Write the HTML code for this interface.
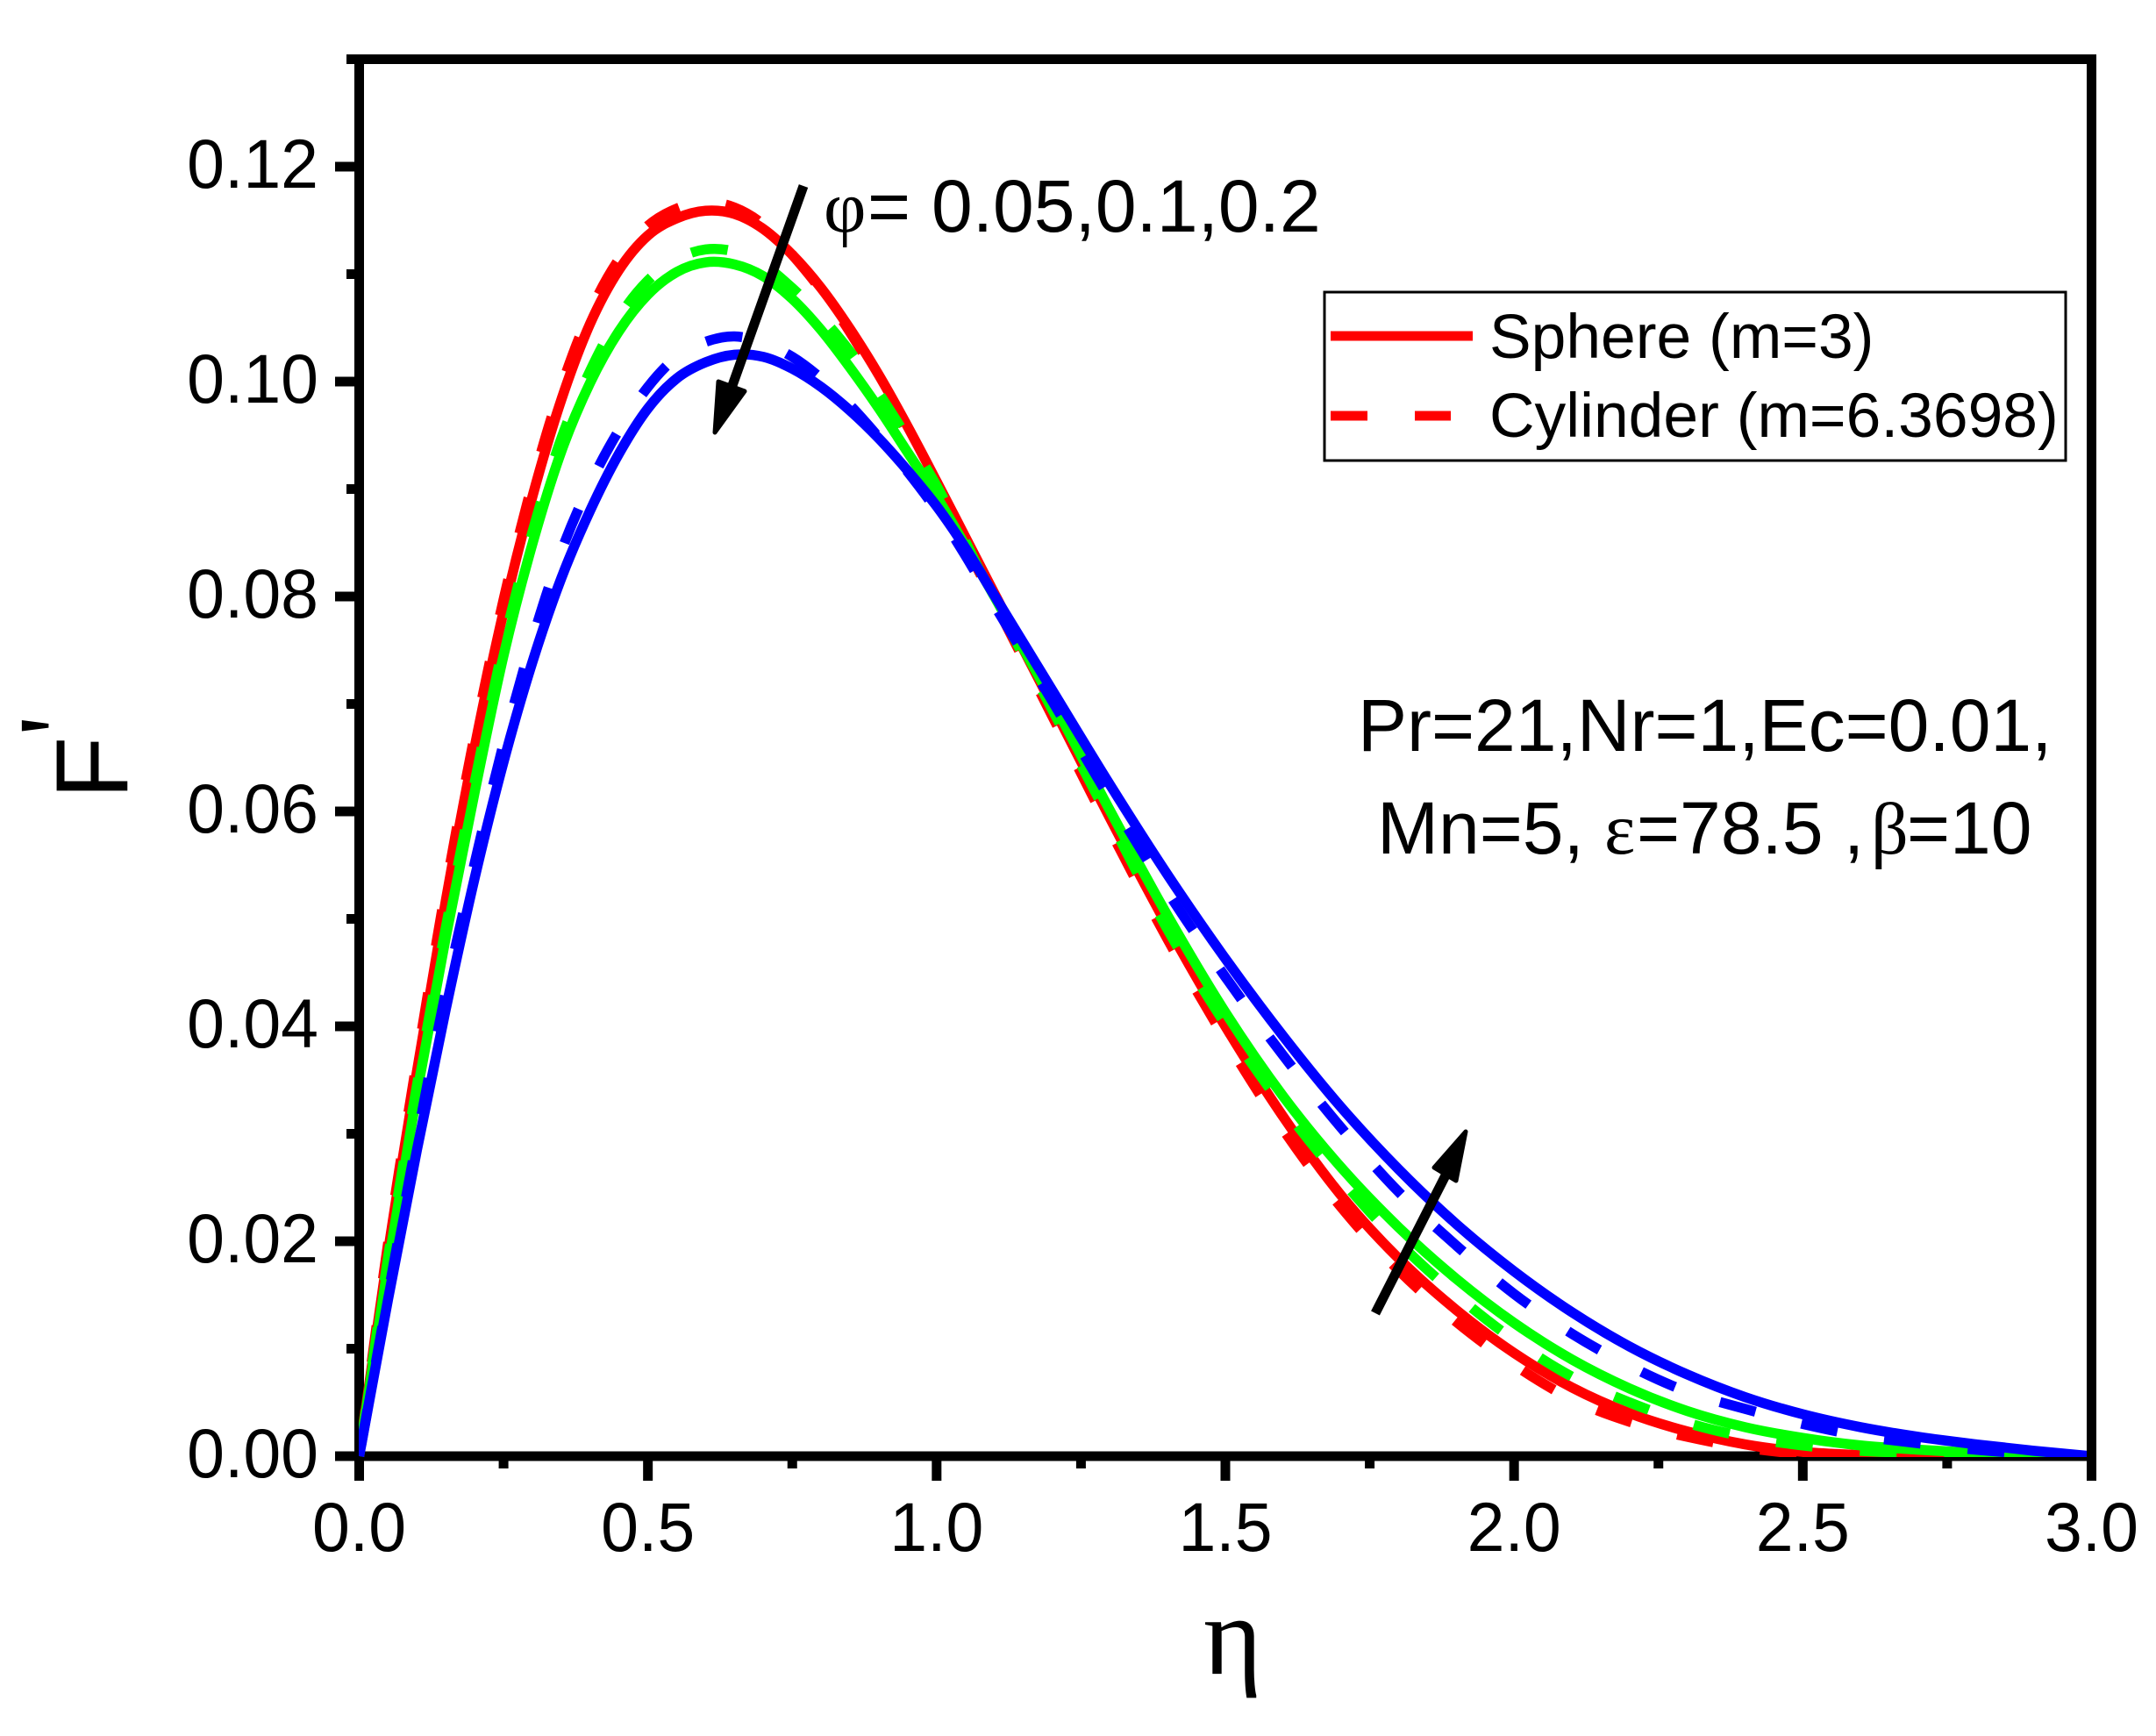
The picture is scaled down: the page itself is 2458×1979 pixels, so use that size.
<!DOCTYPE html>
<html lang="en">
<head>
<meta charset="utf-8">
<title>F' versus eta chart</title>
<style>
html,body{margin:0;padding:0;background:#fff;}
svg{display:block;}
text{font-family:"Liberation Sans",Arial,sans-serif;fill:#000;}
.greek{font-family:"Liberation Serif","DejaVu Serif",serif;}
</style>
</head>
<body>
<svg id="chart" xmlns="http://www.w3.org/2000/svg" width="2458" height="1979" viewBox="0 0 2458 1979">
  <rect x="0" y="0" width="2458" height="1979" fill="#fff"/>
  <defs>
    <clipPath id="plot-clip"><rect x="409" y="60" width="1970" height="1601"/></clipPath>
  </defs>
  <g id="axes"></g>
  <g id="series" clip-path="url(#plot-clip)"></g>
  <g id="ticklabels"></g>

  <text class="greek" x="1372" y="1908" font-size="128">η</text>
  <text transform="translate(145,911) rotate(-90)" font-size="117">F</text>
  <text class="greek" transform="translate(110,839) rotate(-90)" font-size="130">'</text>

  <text x="939" y="264" font-size="84"><tspan class="greek" font-size="84">φ</tspan><tspan x="989">= </tspan><tspan x="1062">0.05,0.1,0.2</tspan></text>
  <text x="1548" y="856" font-size="84">Pr=21,Nr=1,Ec=0.01,</text>
  <text x="1570" y="973" font-size="84">Mn=5, <tspan class="greek" x="1829">ε</tspan><tspan x="1866">=78.5 ,</tspan><tspan class="greek" x="2133">β</tspan><tspan x="2174">=10</tspan></text>

  <g>
    <line x1="916" y1="212" x2="833" y2="445" stroke="#000" stroke-width="11"/>
    <polygon points="819,435 849,446 815,493" fill="#000" stroke="#000" stroke-width="5" stroke-linejoin="round"/>
  </g>
  <g>
    <line x1="1568" y1="1497" x2="1648" y2="1340" stroke="#000" stroke-width="11"/>
    <polygon points="1635,1331 1660,1346 1671,1290" fill="#000" stroke="#000" stroke-width="5" stroke-linejoin="round"/>
  </g>

  <g>
    <rect x="1510" y="333" width="845" height="192" fill="#fff" stroke="#000" stroke-width="3"/>
    <line x1="1517" y1="383" x2="1679" y2="383" stroke="#ff0000" stroke-width="11"/>
    <text x="1698" y="408" font-size="71.4">Sphere (m=3)</text>
    <line x1="1517" y1="474" x2="1559" y2="474" stroke="#ff0000" stroke-width="11"/>
    <line x1="1613" y1="474" x2="1654" y2="474" stroke="#ff0000" stroke-width="11"/>
    <text x="1698" y="498" font-size="71.4">Cylinder (m=6.3698)</text>
  </g>
</svg>
<script>
// ---- chart data ----
const xTickLabels = ["0.0","0.5","1.0","1.5","2.0","2.5","3.0"];
const xTickValues = [0,0.5,1,1.5,2,2.5,3];
const xMinorValues = [0.25,0.75,1.25,1.75,2.25,2.75];
const yTickLabels = ["0.00","0.02","0.04","0.06","0.08","0.10","0.12"];
const yTickValues = [0,0.02,0.04,0.06,0.08,0.10,0.12];
const yMinorValues = [0.01,0.03,0.05,0.07,0.09,0.11,0.13];

const etaValues = [0,.05,.1,.15,.2,.25,.3,.35,.4,.45,.5,.55,.6,.65,.7,.75,.8,.85,.9,.95,1,1.05,1.1,1.2,1.3,1.4,1.5,1.6,1.7,1.8,1.9,2,2.1,2.2,2.3,2.4,2.5,2.6,2.7,2.8,2.9,3];

const redSolidF = [0,.019,.0358,.0517,.066,.0786,.0893,.0983,.1054,.1104,.1136,.1152,.1159,.1156,.1142,.1118,.1087,.1049,.1006,.0958,.0907,.0855,.0803,.0699,.0594,.0493,.04,.0316,.0243,.0184,.0136,.0096,.0064,.004,.0023,.0011,.0004,.0001,0,0,0,0];
const redDashF = [0,.0198,.0368,.0528,.0671,.0797,.0905,.0995,.1065,.1114,.1145,.1161,.1167,.1162,.1146,.1118,.1085,.1046,.1001,.0952,.09,.0848,.0795,.0689,.0583,.0481,.0388,.0304,.0232,.0173,.0125,.0085,.0053,.0032,.0018,.0008,.0002,0,0,0,0,0];
const greenSolidF = [0,.0178,.0338,.0483,.0618,.0745,.0849,.0935,.0999,.1047,.1081,.1102,.1111,.1109,.1098,.1077,.1048,.1013,.0975,.0934,.0893,.0847,.08,.0703,.0601,.0503,.0413,.0335,.0269,.0213,.0165,.0124,.009,.0063,.0042,.0027,.0017,.001,.0006,.0003,.0001,0];
const greenDashF = [0,.0185,.0345,.0492,.0627,.0755,.086,.0947,.101,.106,.1094,.1114,.1123,.1121,.1109,.1087,.106,.1028,.0989,.0947,.0903,.0851,.0796,.0695,.0592,.049,.0402,.0325,.0258,.0199,.015,.0108,.0074,.005,.0031,.0018,.001,.0005,.0003,.0002,.0001,0];
const blueSolidF = [0,.0146,.0285,.0416,.0538,.0646,.0739,.0817,.088,.0933,.0975,.1003,.1018,.1025,.1023,.1012,.0995,.0973,.0947,.0917,.0884,.0845,.0801,.0713,.0625,.0541,.0463,.0391,.0325,.0267,.0216,.0172,.0134,.0102,.0076,.0055,.0039,.0027,.0018,.0011,.0005,0];
const blueDashF = [0,.015,.0295,.0432,.0552,.0663,.076,.0842,.0905,.0955,.0995,.1023,.1037,.1042,.1036,.1023,.1003,.0978,.0948,.0916,.088,.0838,.0792,.0703,.0612,.0525,.0446,.0373,.0306,.0246,.0196,.0151,.0114,.0084,.006,.0044,.003,.0019,.0012,.0006,.0002,0];

// ---- axis functions ----
const xOrigin = 409.5, xPerUnit = 658.33;
const yOrigin = 1660, yPerUnit = 12250;
function xScale(v){ return xOrigin + v * xPerUnit; }
function yScale(v){ return yOrigin - v * yPerUnit; }

const NS = "http://www.w3.org/2000/svg";
const axes = document.getElementById("axes");
const seriesGroup = document.getElementById("series");
const labels = document.getElementById("ticklabels");

function addRect(parent, x, y, w, h){
  const r = document.createElementNS(NS, "rect");
  r.setAttribute("x", x);
  r.setAttribute("y", y);
  r.setAttribute("width", w);
  r.setAttribute("height", h);
  r.setAttribute("fill", "#000");
  parent.appendChild(r);
  return r;
}

// spines
const spineW = 11;
const leftX = xScale(0), rightX = xScale(3), botY = yScale(0), topY = yScale(0.13);
let el;
el = addRect(axes, leftX - spineW/2, topY - spineW/2, spineW, 1688 - topY + spineW/2);


el = addRect(axes, leftX - spineW/2, botY - spineW/2, rightX - leftX + spineW, spineW);


el = addRect(axes, rightX - spineW/2, topY - spineW/2, spineW, 1688 - topY + spineW/2);


el = addRect(axes, leftX - spineW/2, topY - spineW/2, rightX - leftX + spineW, spineW);



// ticks and tick labels
xTickValues.forEach(function(v, i){
  const t = addRect(axes, xScale(v) - 5.5, botY, 11, 1688 - botY);
  
  
  const lab = document.createElementNS(NS, "text");
  lab.setAttribute("transform", "translate(" + xScale(v) + ",1768) scale(0.975,1)");
  lab.setAttribute("text-anchor", "middle");
  lab.setAttribute("font-size", "79");
  lab.textContent = xTickLabels[i];
  
  
  labels.appendChild(lab);
});
xMinorValues.forEach(function(v){
  const t = addRect(axes, xScale(v) - 5.5, botY, 11, 1674 - botY);
  
  
});
yTickValues.forEach(function(v, i){
  const t = addRect(axes, 382, yScale(v) - 5.5, leftX - 382, 11);
  
  
  const lab = document.createElementNS(NS, "text");
  lab.setAttribute("transform", "translate(363," + (yScale(v) + 24) + ") scale(0.975,1)");
  lab.setAttribute("text-anchor", "end");
  lab.setAttribute("font-size", "79");
  lab.textContent = yTickLabels[i];
  
  
  labels.appendChild(lab);
});
yMinorValues.forEach(function(v){
  const t = addRect(axes, 395, yScale(v) - 5.5, leftX - 395, 11);
  
  
});

// smooth path through data points (cubic Hermite in x)
function curvePath(etas, fs){
  const px = etas.map(xScale), py = fs.map(yScale), n = px.length, m = [];
  for (let i = 0; i < n; i++){
    const a = Math.max(0, i - 1), b = Math.min(n - 1, i + 1);
    m.push((py[b] - py[a]) / (px[b] - px[a]));
  }
  let d = "M" + px[0].toFixed(2) + " " + py[0].toFixed(2);
  for (let i = 0; i < n - 1; i++){
    const h = (px[i + 1] - px[i]) / 3;
    d += "C" + (px[i] + h).toFixed(2) + " " + (py[i] + m[i] * h).toFixed(2) + " " +
         (px[i + 1] - h).toFixed(2) + " " + (py[i + 1] - m[i + 1] * h).toFixed(2) + " " +
         px[i + 1].toFixed(2) + " " + py[i + 1].toFixed(2);
  }
  return d;
}
function drawSeries(fs, color, dashed, offset){
  const p = document.createElementNS(NS, "path");
  p.setAttribute("d", curvePath(etaValues, fs));
  p.setAttribute("fill", "none");
  p.setAttribute("stroke", color);
  p.setAttribute("stroke-width", "11.5");
  if (dashed){
    p.setAttribute("stroke-dasharray", "42 54");
    p.setAttribute("stroke-dashoffset", offset);
  }
  seriesGroup.appendChild(p);
  return p;
}
const redSolidLine = drawSeries(redSolidF, "#ff0000", false, 0);


const redDashLine = drawSeries(redDashF, "#ff0000", true, -12);


const greenSolidLine = drawSeries(greenSolidF, "#00ff00", false, 0);


const greenDashLine = drawSeries(greenDashF, "#00ff00", true, -10);


const blueSolidLine = drawSeries(blueSolidF, "#0000ff", false, 0);


const blueDashLine = drawSeries(blueDashF, "#0000ff", true, -12);


</script>
</body>
</html>
